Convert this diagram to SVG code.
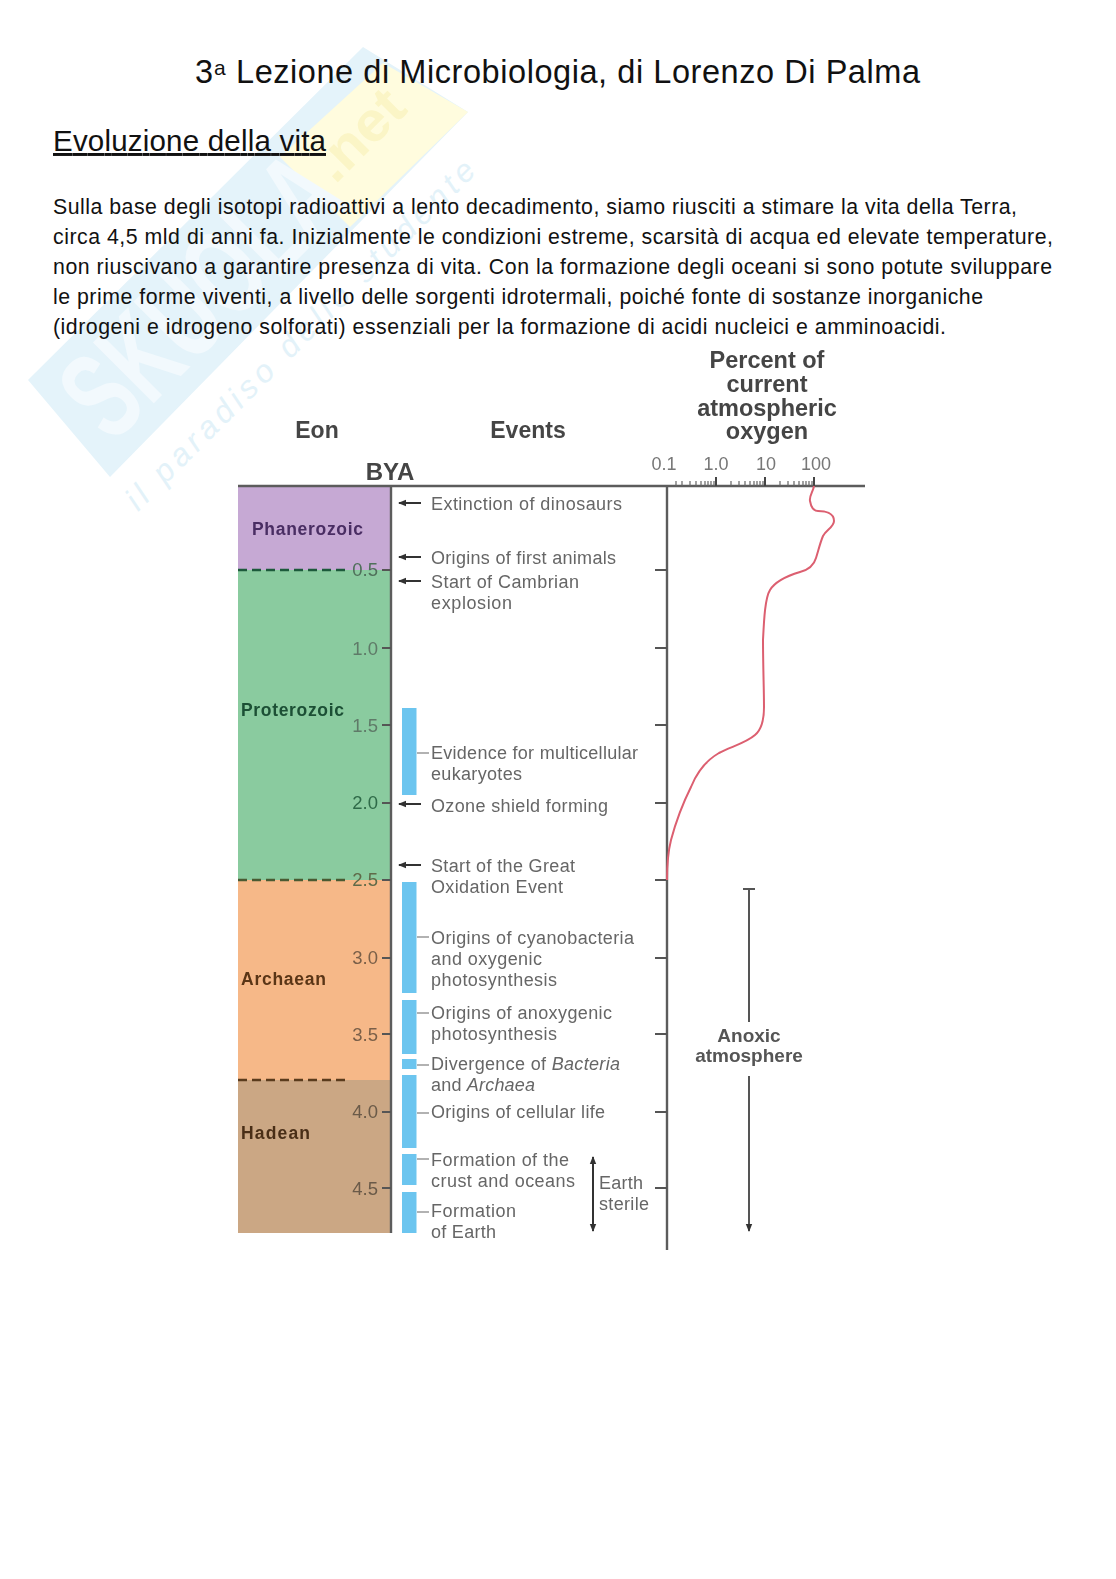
<svg xmlns="http://www.w3.org/2000/svg" width="1116" height="1579" viewBox="0 0 1116 1579">
<style>
text{font-family:"Liberation Sans",Arial,sans-serif}
.body{font-size:21.3px;fill:#111}
.ev{font-size:18px;fill:#666}
.hd{font-size:23.5px;font-weight:700;fill:#444;text-anchor:middle}
.scale{font-size:18px;fill:#777;text-anchor:middle}
.eon{font-size:17.5px;font-weight:700}
.by{font-size:18.5px;text-anchor:end}
.ax{stroke:#5c5c5c;stroke-width:2.4;fill:none}
.tk{stroke:#555;stroke-width:2;fill:none}
.dash{stroke-width:2.5;stroke-dasharray:9 5;fill:none}
.bar{fill:#6cc5ef}
.lead{stroke:#999;stroke-width:1.3}
.arr{stroke:#333;stroke-width:2;fill:none}
.wm{font-family:"Liberation Sans",sans-serif}
</style>
<defs>
<marker id="ah" viewBox="0 0 8 8" refX="7" refY="4" markerWidth="8" markerHeight="8" markerUnits="userSpaceOnUse" orient="auto-start-reverse"><path d="M0 0.8L8 4L0 7.2z" fill="#333"/></marker>
<filter id="soft" x="-5%" y="-5%" width="110%" height="110%"><feGaussianBlur stdDeviation="0.75"/></filter>
</defs>
<rect width="1116" height="1579" fill="#fff"/>
<g id="watermark">
<polygon points="28,380 363,47 468,112 110,477" fill="#e4f3fa"/>
<polygon points="383,63 468,112 350,227 280,157" fill="#fffcde"/>
<text class="wm" transform="translate(112,445) rotate(-45)" font-size="125" font-weight="700" fill="#f2f9fd" textLength="340" lengthAdjust="spacingAndGlyphs">SKUOLA</text>
<text class="wm" transform="translate(335,185) rotate(-45)" font-size="56" font-weight="700" fill="#fbf5c6" textLength="105" lengthAdjust="spacingAndGlyphs">.net</text>
<text transform="translate(138,512) rotate(-45)" font-family="'DejaVu Serif',serif" font-style="italic" font-size="32" fill="#e3f2f9" textLength="480" lengthAdjust="spacing">il paradiso dello studente</text>
</g>
<g id="page-text">
<text id="title" x="195" y="83" font-size="32.5" fill="#111">3<tspan x="214" y="75" font-size="21">a</tspan><tspan x="236" y="83" textLength="684" lengthAdjust="spacing">Lezione di Microbiologia, di Lorenzo Di Palma</tspan></text>
<text id="heading" x="53" y="151" font-size="29.5" fill="#111" style="text-decoration:underline;text-decoration-skip-ink:none" textLength="273" lengthAdjust="spacing">Evoluzione della vita</text>
<text class="body" x="53" y="214" textLength="964" lengthAdjust="spacing">Sulla base degli isotopi radioattivi a lento decadimento, siamo riusciti a stimare la vita della Terra,</text>
<text class="body" x="53" y="244" textLength="1000" lengthAdjust="spacing">circa 4,5 mld di anni fa. Inizialmente le condizioni estreme, scarsità di acqua ed elevate temperature,</text>
<text class="body" x="53" y="274" textLength="999" lengthAdjust="spacing">non riuscivano a garantire presenza di vita. Con la formazione degli oceani si sono potute sviluppare</text>
<text class="body" x="53" y="304" textLength="930" lengthAdjust="spacing">le prime forme viventi, a livello delle sorgenti idrotermali, poiché fonte di sostanze inorganiche</text>
<text class="body" x="53" y="334" textLength="893" lengthAdjust="spacing">(idrogeni e idrogeno solforati) essenziali per la formazione di acidi nucleici e amminoacidi.</text>
</g>
<g id="chart" filter="url(#soft)">
<g id="eon-phanerozoic"><rect x="238" y="487" width="153" height="83" fill="#c6a9d4"/><text class="eon" x="252" y="535" fill="#4a2d63" textLength="111" lengthAdjust="spacing">Phanerozoic</text></g>
<g id="eon-proterozoic"><rect x="238" y="570" width="153" height="310" fill="#8acb9f"/><text class="eon" x="241" y="716" fill="#1c4f35" textLength="103" lengthAdjust="spacing">Proterozoic</text></g>
<g id="eon-archaean"><rect x="238" y="880" width="153" height="200" fill="#f6b888"/><text class="eon" x="241" y="985" fill="#5a3516" textLength="85" lengthAdjust="spacing">Archaean</text></g>
<g id="eon-hadean"><rect x="238" y="1080" width="153" height="153" fill="#cba784"/><text class="eon" x="241" y="1139" fill="#4a2f18" textLength="69" lengthAdjust="spacing">Hadean</text></g>
<g id="headers">
<text class="hd" x="317" y="438" style="font-size:23px">Eon</text>
<text class="hd" x="528" y="438" style="font-size:23px">Events</text>
<text class="hd" x="390" y="480" style="font-size:24px">BYA</text>
<text class="hd" x="767" y="368">Percent of</text>
<text class="hd" x="767" y="392">current</text>
<text class="hd" x="767" y="416">atmospheric</text>
<text class="hd" x="767" y="439">oxygen</text>
<text class="scale" x="664" y="470">0.1</text>
<text class="scale" x="716" y="470">1.0</text>
<text class="scale" x="766" y="470">10</text>
<text class="scale" x="816" y="470">100</text>
</g>
<g id="connectors">
<path class="dash" stroke="#1f5a3a" d="M238 570H350"/>
<path class="dash" stroke="#4a5a30" d="M238 880H350"/>
<path class="dash" stroke="#5a3a1c" d="M238 1080H348"/>
<path class="ax" d="M238 486H865M391 486V1233M667 486V1250"/>
<path class="tk" d="M382 570H391M382 648H391M382 725H391M382 803H391M382 880H391M382 958H391M382 1034H391M382 1112H391M382 1188H391"/>
<path class="tk" d="M655 570H667M655 648H667M655 725H667M655 803H667M655 880H667M655 958H667M655 1034H667M655 1112H667M655 1188H667"/>
<path stroke="#666" stroke-width="1.2" fill="none" d="M676 486v-5M682 486v-5M690 486v-5M696 486v-5M701 486v-5M705 486v-5M708 486v-5M711 486v-5M714 486v-5M731 486v-5M739 486v-5M745 486v-5M750 486v-5M754 486v-5M757 486v-5M760 486v-5M763 486v-5M780 486v-5M788 486v-5M794 486v-5M799 486v-5M803 486v-5M806 486v-5M809 486v-5M812 486v-5"/>
<path stroke="#444" stroke-width="2" fill="none" d="M716 486v-9M765 486v-9M814 486v-9"/>
<path id="oxygen-curve" fill="none" stroke="#dc5f70" stroke-width="2" d="M814 486C813 492 809 496 810 501C811 507 813 511 818 511C825 511 834 513 834 521C834 527 826 530 823 536C820 543 818 552 816 558C814 565 808 570 800 572C790 575 776 580 770 590C765 598 764 620 763 640C763 665 764 690 764 707C764 722 761 730 755 735C746 743 730 747 719 753C707 760 697 772 691 787C682 805 675 825 671 840C668 852 667 865 667 880"/>
<path class="arr" marker-end="url(#ah)" d="M421 503H399"/>
<path class="arr" marker-end="url(#ah)" d="M421 557H399"/>
<path class="arr" marker-end="url(#ah)" d="M421 581H399"/>
<path class="arr" marker-end="url(#ah)" d="M421 804H399"/>
<path class="arr" marker-end="url(#ah)" d="M421 865H399"/>
<path class="lead" d="M417 753H429M417 937H429M417 1013H429M417 1065H429M417 1113H429M417 1159H429M417 1212H429"/>
<path class="arr" marker-start="url(#ah)" marker-end="url(#ah)" d="M593 1157V1231"/>
<path stroke="#555" stroke-width="2" fill="none" d="M743 889H755M749 889V1022"/>
<path stroke="#555" stroke-width="2" fill="none" marker-end="url(#ah)" d="M749 1076V1231"/>
</g>
<g id="scale-labels">
<text class="by" x="378" y="576" fill="#4f6f5a">0.5</text>
<text class="by" x="378" y="655" fill="#5f7a68">1.0</text>
<text class="by" x="378" y="732" fill="#5f7a68">1.5</text>
<text class="by" x="378" y="809" fill="#2f6a48">2.0</text>
<text class="by" x="378" y="886" fill="#5f6a48">2.5</text>
<text class="by" x="378" y="964" fill="#7a5f48">3.0</text>
<text class="by" x="378" y="1041" fill="#7a5f48">3.5</text>
<text class="by" x="378" y="1118" fill="#6a5a48">4.0</text>
<text class="by" x="378" y="1195" fill="#6a5a48">4.5</text>
</g>
<g id="event-bars">
<rect class="bar" x="402" y="708" width="14.5" height="87"/>
<rect class="bar" x="402" y="882" width="14.5" height="111"/>
<rect class="bar" x="402" y="1000" width="14.5" height="54"/>
<rect class="bar" x="402" y="1059" width="14.5" height="10"/>
<rect class="bar" x="402" y="1075" width="14.5" height="73"/>
<rect class="bar" x="402" y="1154" width="14.5" height="31"/>
<rect class="bar" x="402" y="1192" width="14.5" height="41"/>
</g>
<g id="events">
<text class="ev" x="431" y="510" textLength="191" lengthAdjust="spacing">Extinction of dinosaurs</text>
<text class="ev" x="431" y="564" textLength="185" lengthAdjust="spacing">Origins of first animals</text>
<text class="ev" x="431" y="588" textLength="148" lengthAdjust="spacing">Start of Cambrian</text>
<text class="ev" x="431" y="609" textLength="81" lengthAdjust="spacing">explosion</text>
<text class="ev" x="431" y="759" textLength="207" lengthAdjust="spacing">Evidence for multicellular</text>
<text class="ev" x="431" y="780" textLength="91" lengthAdjust="spacing">eukaryotes</text>
<text class="ev" x="431" y="812" textLength="177" lengthAdjust="spacing">Ozone shield forming</text>
<text class="ev" x="431" y="872" textLength="144" lengthAdjust="spacing">Start of the Great</text>
<text class="ev" x="431" y="893" textLength="132" lengthAdjust="spacing">Oxidation Event</text>
<text class="ev" x="431" y="944" textLength="203" lengthAdjust="spacing">Origins of cyanobacteria</text>
<text class="ev" x="431" y="965" textLength="111" lengthAdjust="spacing">and oxygenic</text>
<text class="ev" x="431" y="986" textLength="126" lengthAdjust="spacing">photosynthesis</text>
<text class="ev" x="431" y="1019" textLength="181" lengthAdjust="spacing">Origins of anoxygenic</text>
<text class="ev" x="431" y="1040" textLength="126" lengthAdjust="spacing">photosynthesis</text>
<text class="ev" x="431" y="1070" textLength="189" lengthAdjust="spacing">Divergence of <tspan font-style="italic">Bacteria</tspan></text>
<text class="ev" x="431" y="1091" textLength="104" lengthAdjust="spacing">and <tspan font-style="italic">Archaea</tspan></text>
<text class="ev" x="431" y="1118" textLength="174" lengthAdjust="spacing">Origins of cellular life</text>
<text class="ev" x="431" y="1166" textLength="138" lengthAdjust="spacing">Formation of the</text>
<text class="ev" x="431" y="1187" textLength="144" lengthAdjust="spacing">crust and oceans</text>
<text class="ev" x="431" y="1217" textLength="85" lengthAdjust="spacing">Formation</text>
<text class="ev" x="431" y="1238" textLength="65" lengthAdjust="spacing">of Earth</text>
<text class="ev" x="599" y="1189" textLength="44" lengthAdjust="spacing">Earth</text>
<text class="ev" x="599" y="1210" textLength="50" lengthAdjust="spacing">sterile</text>
<text x="749" y="1042" font-size="19" font-weight="700" fill="#555" text-anchor="middle">Anoxic</text>
<text x="749" y="1062" font-size="19" font-weight="700" fill="#555" text-anchor="middle">atmosphere</text>
</g>
</g>
</svg>
